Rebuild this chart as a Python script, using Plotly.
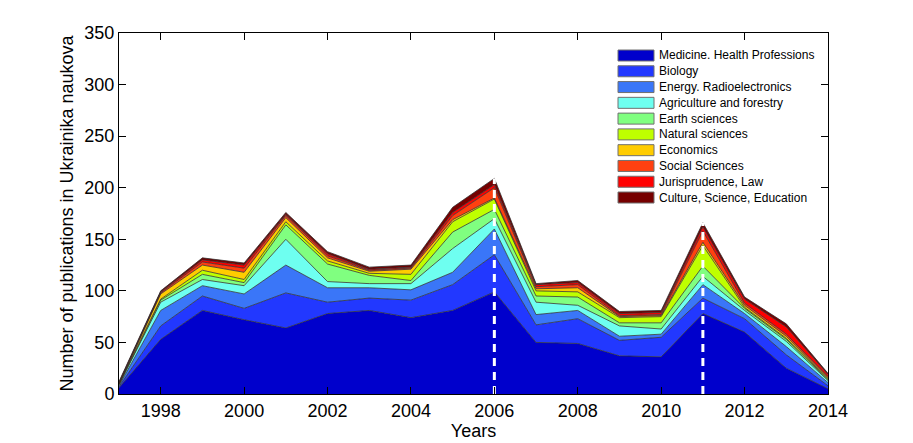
import plotly.graph_objects as go

years = list(range(1997, 2015))

medicine    = [6, 53, 81, 72, 64, 78, 81, 74, 81, 99, 50, 49, 37, 36, 78, 60, 25, 5]
biology     = [1, 13, 14, 11, 34, 11, 12, 17, 25, 36, 17, 24, 15, 19, 15, 13, 13, 3]
energy      = [1, 15, 10, 14, 27, 14, 10, 10, 12, 25, 10, 8, 4, 3, 13, 5, 8, 3]
agriculture = [1, 8, 6, 8, 25, 6, 4, 6, 23, 10, 12, 5, 10, 5, 8, 3, 5, 2]
earth       = [0, 2, 5, 3, 14, 17, 8, 3, 16, 9, 6, 8, 3, 6, 10, 2, 2, 1]
natural     = [1, 1, 4, 3, 3, 3, 2, 6, 10, 10, 5, 5, 5, 6, 20, 1, 1, 1]
economics   = [0, 5, 5, 7, 4, 3, 2, 5, 2, 1, 2, 4, 1, 1, 3, 2, 2, 1]
social      = [0, 1, 3, 4, 2, 2, 1, 1, 4, 10, 2, 3, 1, 1, 11, 2, 2, 1]
law         = [1, 1, 2, 3, 1, 2, 1, 1, 3, 3, 2, 2, 2, 2, 4, 4, 7, 2]
culture     = [1, 1, 2, 2, 2, 2, 2, 2, 5, 6, 1, 2, 2, 2, 4, 2, 3, 1]

series_names = [
    "Medicine. Health Professions", "Biology", "Energy. Radioelectronics",
    "Agriculture and forestry", "Earth sciences", "Natural sciences",
    "Economics", "Social Sciences", "Jurisprudence, Law",
    "Culture, Science, Education",
]
series_values = [medicine, biology, energy, agriculture, earth, natural,
                 economics, social, law, culture]
colors = ["#0000CC", "#2238FF", "#3A76F8", "#6EFFF0", "#80FF80",
          "#BFFF00", "#FFCC00", "#FF4010", "#FF0000", "#760000"]

marked_years = [2006, 2011]

fig = go.Figure()
for name, vals, col in zip(series_names, series_values, colors):
    fig.add_trace(go.Scatter(
        x=years, y=vals, name=name, stackgroup="one", mode="lines",
        line=dict(color="rgba(45,45,45,0.85)", width=0.9),
        fillcolor=col, showlegend=False,
    ))

totals = [sum(v) for v in zip(*series_values)]
for yr in marked_years:
    t = totals[years.index(yr)]
    fig.add_trace(go.Scatter(
        x=[yr, yr], y=[0, t], mode="lines", showlegend=False,
        line=dict(color="white", width=3, dash="8px,6px"), hoverinfo="skip",
    ))

# plot area in page pixels (left, right, top, bottom)
PL, PR, PT, PB = 119.0, 828.0, 33.0, 394.0

def px(x):
    return (x - PL) / (PR - PL)

def py(y):
    return (PB - y) / (PB - PT)

# manual legend (MATLAB style: compact rows, no frame)
shapes = []
annotations = []
row0, step = 55.5, 15.78
for i, (name, col) in enumerate(zip(series_names, colors)):
    cy = row0 + i * step
    shapes.append(dict(
        type="rect", xref="paper", yref="paper",
        x0=px(618), x1=px(654), y0=py(cy + 5.5), y1=py(cy - 5.5),
        fillcolor=col, line=dict(color="#707070", width=1), layer="above",
    ))
    annotations.append(dict(
        xref="paper", yref="paper", x=px(657), y=py(cy),
        xanchor="left", yanchor="middle", text=name, showarrow=False,
        font=dict(size=12, color="black"),
    ))

font = "Liberation Sans, Arial, Helvetica, sans-serif"
fig.update_layout(
    width=913, height=443,
    margin=dict(l=111, r=93, t=25, b=57),
    paper_bgcolor="white", plot_bgcolor="white",
    font=dict(family=font, size=18, color="black"),
    showlegend=False,
    shapes=shapes,
    annotations=annotations,
    xaxis=dict(
        range=[1997, 2014], tickmode="array",
        tickvals=list(range(1998, 2015, 2)),
        ticks="inside", ticklen=7, tickcolor="black",
        showline=True, linecolor="black", linewidth=1, mirror="ticks",
        showgrid=False, zeroline=False,
        title=dict(text="Years", font=dict(size=18), standoff=0),
        tickfont=dict(size=18),
    ),
    yaxis=dict(
        range=[0, 350], tickmode="array", tickvals=list(range(0, 351, 50)),
        ticks="inside", ticklen=7, tickcolor="black",
        showline=True, linecolor="black", linewidth=1, mirror="ticks",
        showgrid=False, zeroline=False,
        title=dict(text="Number of publications in Ukrainika naukova",
                   font=dict(size=18), standoff=6),
        tickfont=dict(size=18),
    ),
)

fig.write_html("out.html")
